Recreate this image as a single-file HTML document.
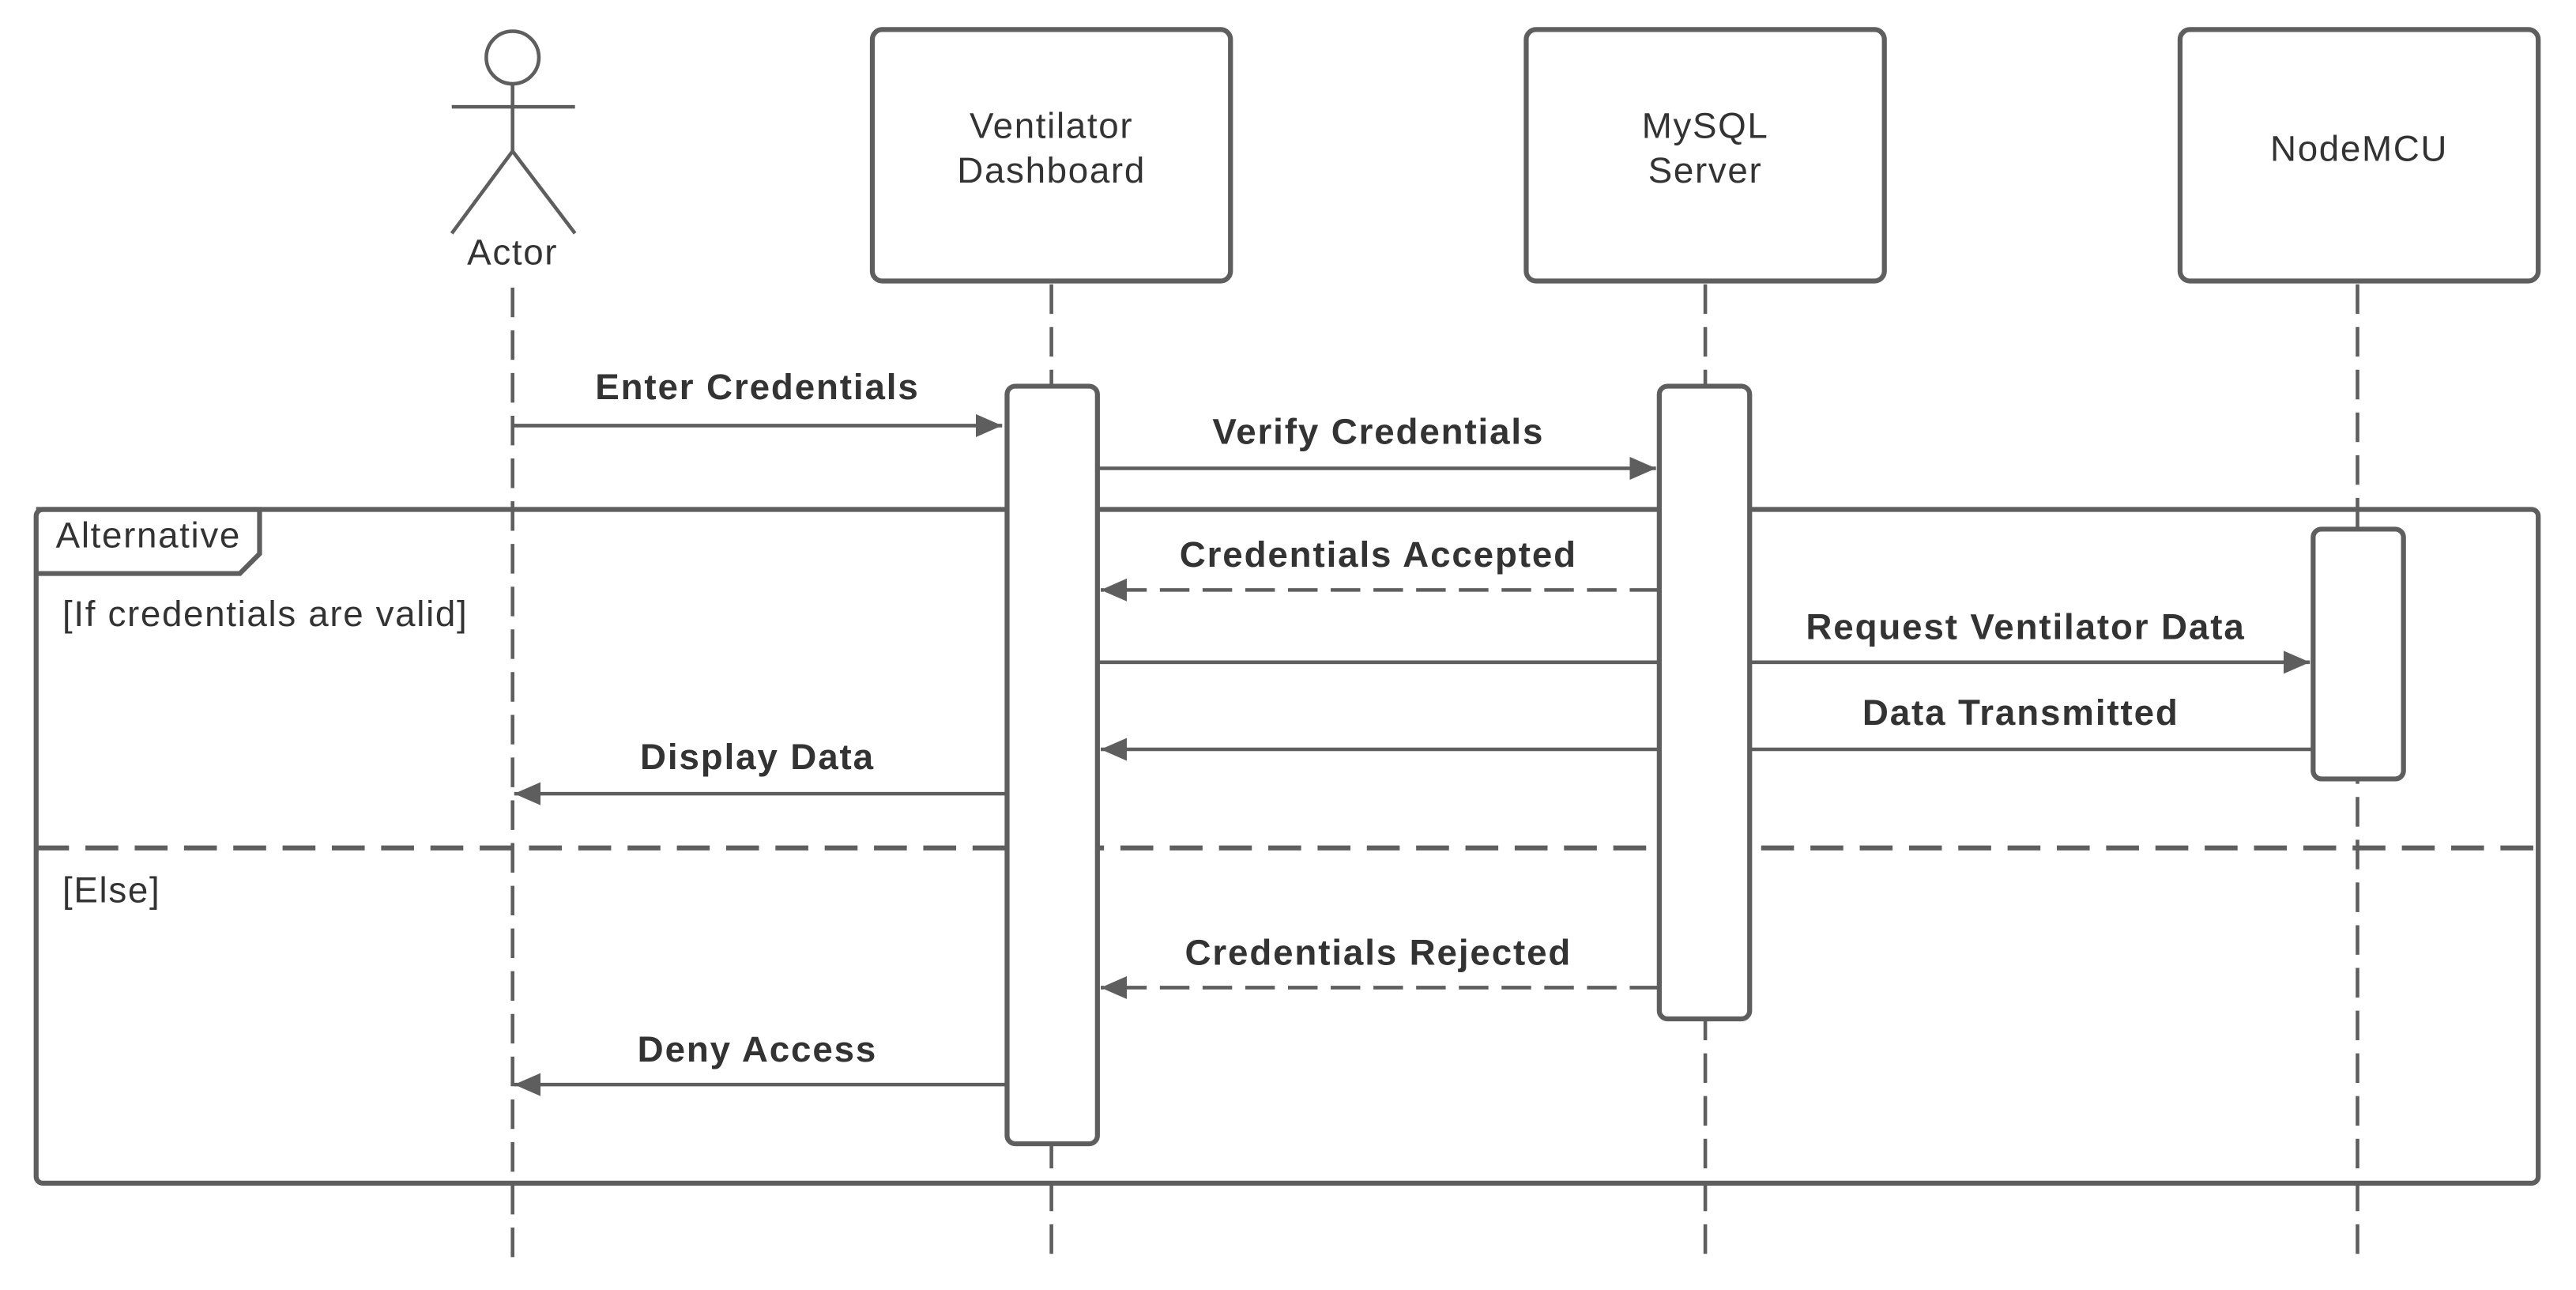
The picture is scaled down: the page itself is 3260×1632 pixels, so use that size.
<!DOCTYPE html>
<html><head><meta charset="utf-8"><style>html,body{margin:0;padding:0;background:#fff}svg{display:block}</style></head>
<body>
<svg width="3260" height="1632" viewBox="0 0 1568 785" preserveAspectRatio="none" xmlns="http://www.w3.org/2000/svg" font-family="'Liberation Sans', sans-serif">
<defs>
<marker id="a" markerWidth="16" markerHeight="14" refX="16" refY="7" orient="auto" markerUnits="userSpaceOnUse"><path d="M0,0 L16,7 L0,14 Z" fill="#5e5e5e"/></marker>
</defs>
<g stroke="#5e5e5e" stroke-width="2.2" fill="none">
<g stroke-dasharray="18,8">
<line x1="312" y1="175" x2="312" y2="765"/>
<line x1="640" y1="173" x2="640" y2="765"/>
<line x1="1038" y1="173" x2="1038" y2="765"/>
<line x1="1435" y1="173" x2="1435" y2="765"/>
</g>
<circle cx="312" cy="35" r="16" fill="#fff"/>
<line x1="312" y1="51" x2="312" y2="92"/>
<line x1="275" y1="65" x2="350" y2="65"/>
<line x1="312" y1="92" x2="275" y2="142"/>
<line x1="312" y1="92" x2="350" y2="142"/>
<rect x="531" y="18" width="218" height="153" rx="6" fill="#fff" stroke-width="3"/>
<rect x="929" y="18" width="218" height="153" rx="6" fill="#fff" stroke-width="3"/>
<rect x="1327" y="18" width="218" height="153" rx="6" fill="#fff" stroke-width="3"/>
<rect x="22" y="310" width="1523" height="410" rx="4" stroke-width="3"/>
<path d="M22,310 H158 V337 L146,349 H22" stroke-width="3"/>
<line x1="22" y1="516" x2="1545" y2="516" stroke-width="3" stroke-dasharray="20,10"/>
<line x1="668" y1="403" x2="1406" y2="403" marker-end="url(#a)"/>
<line x1="1408" y1="456" x2="670" y2="456" marker-end="url(#a)"/>
<rect x="613" y="235" width="55" height="461" rx="5" fill="#fff" stroke-width="3"/>
<rect x="1010" y="235" width="55" height="385" rx="5" fill="#fff" stroke-width="3"/>
<rect x="1408" y="322" width="55" height="152" rx="5" fill="#fff" stroke-width="3"/>
<line x1="312" y1="259" x2="610" y2="259" marker-end="url(#a)"/>
<line x1="668" y1="285" x2="1008" y2="285" marker-end="url(#a)"/>
<line x1="1010" y1="359" x2="670" y2="359" stroke-dasharray="18,8" marker-end="url(#a)"/>
<line x1="613" y1="483" x2="313" y2="483" marker-end="url(#a)"/>
<line x1="1010" y1="601" x2="670" y2="601" stroke-dasharray="18,8" marker-end="url(#a)"/>
<line x1="613" y1="660" x2="313" y2="660" marker-end="url(#a)"/>
</g>
<g fill="#333" font-size="22" letter-spacing="0.8" text-anchor="middle">
<text x="312" y="161">Actor</text>
<text x="640" y="84">Ventilator</text>
<text x="640" y="111">Dashboard</text>
<text x="1038" y="84">MySQL</text>
<text x="1038" y="111">Server</text>
<text x="1436" y="98">NodeMCU</text>
</g>
<g fill="#333" font-size="22" letter-spacing="0.9" font-weight="bold" text-anchor="middle">
<text x="461" y="243">Enter Credentials</text>
<text x="839" y="270">Verify Credentials</text>
<text x="839" y="345">Credentials Accepted</text>
<text x="1233" y="389">Request Ventilator Data</text>
<text x="1230" y="441">Data Transmitted</text>
<text x="461" y="468">Display Data</text>
<text x="839" y="587">Credentials Rejected</text>
<text x="461" y="646">Deny Access</text>
</g>
<g fill="#333" font-size="22" letter-spacing="0.8">
<text x="34" y="333">Alternative</text>
<text x="38" y="381">[If credentials are valid]</text>
<text x="38" y="549">[Else]</text>
</g>
</svg>
</body></html>
